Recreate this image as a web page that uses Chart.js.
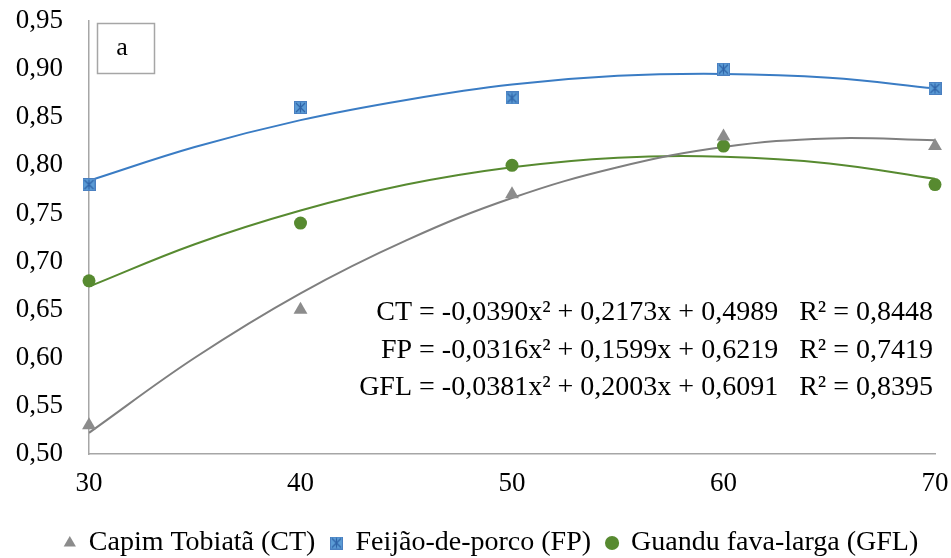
<!DOCTYPE html>
<html><head><meta charset="utf-8">
<script src="https://cdn.jsdelivr.net/npm/chart.js@4/dist/chart.umd.min.js"></script>
<style>html,body{margin:0;padding:0;background:#fff}#wrap{width:951px;height:558px}</style>
</head><body><div id="wrap"><canvas id="c" width="951" height="558"></canvas></div>
<script>
// Data
const doses = [30, 40, 50, 60, 70];
const ctValues = [0.53, 0.65, 0.77, 0.83, 0.82];
const fpValues = [0.78, 0.86, 0.87, 0.90, 0.88];
const gflValues = [0.68, 0.74, 0.80, 0.82, 0.78];
// Trend curves read at regular x positions
const trendX = [30, 35, 40, 45, 50, 55, 60, 65, 70];
const ctTrend = [0.522, 0.600, 0.667, 0.722, 0.766, 0.798, 0.819, 0.828, 0.826];
const fpTrend = [0.784, 0.819, 0.847, 0.868, 0.884, 0.893, 0.895, 0.891, 0.880];
const gflTrend = [0.674, 0.718, 0.753, 0.780, 0.798, 0.808, 0.809, 0.802, 0.786];
const yTicks = [0.50, 0.55, 0.60, 0.65, 0.70, 0.75, 0.80, 0.85, 0.90, 0.95];
const xTicks = [30, 40, 50, 60, 70];
const seriesNames = ['Capim Tobiatã (CT)', 'Feijão-de-porco (FP)', 'Guandu fava-larga (GFL)'];
const equations = [
  'CT = -0,0390x² + 0,2173x + 0,4989   R² = 0,8448',
  'FP = -0,0316x² + 0,1599x + 0,6219   R² = 0,7419',
  'GFL = -0,0381x² + 0,2003x + 0,6091   R² = 0,8395'
];
const panelLabel = 'a';

const FONT = "'Liberation Serif','Times New Roman',serif";
const GRAY = '#8c8c8c', GRAYLINE = '#7f7f7f';
const BLUE = '#5b9bd5', BLUELINE = '#3a7cc4';
const GREEN = '#578a30';

function pts(xs, ys){ return xs.map((x,i)=>({x:x, y:ys[i]})); }

// star-in-square marker for FP
const fpMarker = (function(){
  const s = 13, cv = document.createElement('canvas'); cv.width = s; cv.height = s;
  const g = cv.getContext('2d');
  g.fillStyle = BLUE; g.fillRect(0,0,s,s);
  g.strokeStyle = '#4a7fc0'; g.lineWidth = 1; g.strokeRect(0.5,0.5,s-1,s-1);
  g.strokeStyle = '#2f64a8'; g.lineWidth = 1.2;
  g.beginPath(); g.moveTo(2,2); g.lineTo(s-2,s-2); g.moveTo(s-2,2); g.lineTo(2,s-2);
  g.moveTo(s/2,1.5); g.lineTo(s/2,s-1.5); g.stroke();
  return cv;
})();

const overlay = {
  id: 'overlay',
  afterLayout(chart){
    const lg = chart.legend;
    if (lg) { lg.left += 24; lg.right += 24; lg.top += 9; lg.bottom += 9; }
  },
  afterDraw(chart){
    const ctx = chart.ctx;
    ctx.save();
    // panel label box
    ctx.strokeStyle = '#a6a6a6'; ctx.lineWidth = 1.5;
    ctx.strokeRect(97.5, 23.5, 57, 50);
    ctx.fillStyle = '#000'; ctx.font = '26px ' + FONT;
    ctx.textAlign = 'center'; ctx.textBaseline = 'middle';
    ctx.fillText(panelLabel, 122, 48);
    // equations
    ctx.font = '28px ' + FONT;
    ctx.textAlign = 'right';
    const ys = [313, 351, 388];
    equations.forEach((t,i)=>{ ctx.fillText(t, 933, ys[i]); });
    ctx.restore();
  }
};

new Chart(document.getElementById('c'), {
  type: 'scatter',
  data: {
    datasets: [
      { label: seriesNames[0], data: pts(doses, ctValues), pointStyle: 'triangle', pointRadius: 8,
        backgroundColor: GRAY, borderColor: GRAY, borderWidth: 0, order: 1, clip: false },
      { label: seriesNames[1], data: pts(doses, fpValues), pointStyle: fpMarker, pointRadius: 7,
        backgroundColor: BLUE, borderColor: BLUE, order: 1, clip: false },
      { label: seriesNames[2], data: pts(doses, gflValues), pointStyle: 'circle', pointRadius: 6.5,
        backgroundColor: GREEN, borderColor: GREEN, borderWidth: 0, order: 1, clip: false },
      { label: 'ct-trend', data: pts(trendX, ctTrend), type: 'line', showLine: true, pointRadius: 0,
        borderColor: GRAYLINE, borderWidth: 2, tension: 0.4, fill: false, order: 2 },
      { label: 'fp-trend', data: pts(trendX, fpTrend), type: 'line', showLine: true, pointRadius: 0,
        borderColor: BLUELINE, borderWidth: 2, tension: 0.4, fill: false, order: 2 },
      { label: 'gfl-trend', data: pts(trendX, gflTrend), type: 'line', showLine: true, pointRadius: 0,
        borderColor: GREEN, borderWidth: 2, tension: 0.4, fill: false, order: 2 }
    ]
  },
  options: {
    responsive: false, animation: false, devicePixelRatio: 1,
    layout: { padding: { top: 21, right: 16, left: 0, bottom: 0 } },
    plugins: {
      tooltip: { enabled: false },
      legend: {
        position: 'bottom',
        labels: {
          filter: (item) => item.datasetIndex < 3,
          usePointStyle: true, boxWidth: 10, boxHeight: 10, padding: 16,
          color: '#000', font: { family: FONT, size: 28 }
        }
      }
    },
    scales: {
      x: {
        type: 'linear', min: 30, max: 70,
        afterBuildTicks: (s) => { s.ticks = xTicks.map(v=>({value:v})); },
        afterFit: (s) => { s.height = 50; },
        grid: { display: false, drawTicks: true, tickLength: 12 },
        border: { display: true, color: '#a6a6a6', width: 1.5 },
        ticks: { color: '#000', font: { family: FONT, size: 27 }, padding: 2, maxRotation: 0 }
      },
      y: {
        min: 0.5, max: 0.95,
        afterBuildTicks: (s) => { s.ticks = yTicks.map(v=>({value:v})); },
        afterFit: (s) => { s.width = 89; },
        grid: { display: false, drawTicks: true, tickLength: 24 },
        border: { display: true, color: '#a6a6a6', width: 1.5 },
        ticks: { color: '#000', font: { family: FONT, size: 27 }, padding: 2,
          callback: (v) => Number(v).toFixed(2).replace('.', ',') }
      }
    }
  },
  plugins: [overlay]
});
</script></body></html>
